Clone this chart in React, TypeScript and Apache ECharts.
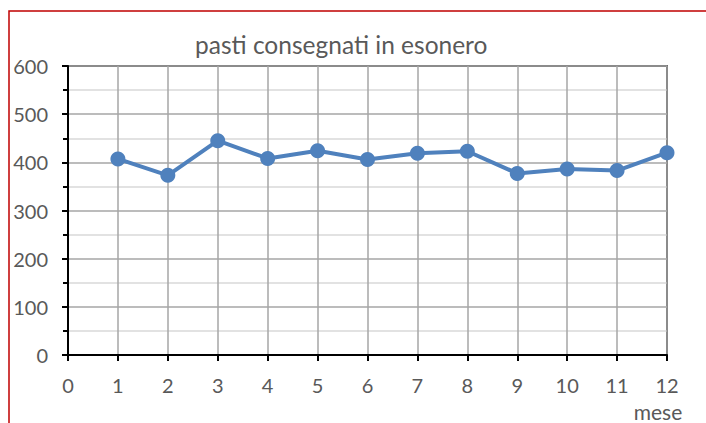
import React, { useEffect, useRef } from "react";
import * as echarts from "echarts";

const titleText = "pasti consegnati in esonero";
const xAxisName = "mese";
const months = [1, 2, 3, 4, 5, 6, 7, 8, 9, 10, 11, 12];
const meals = [407, 373, 445, 408, 424, 406, 419, 423, 377, 386, 383, 420];
const yTicks = { min: 0, max: 600, interval: 100 };
const xTicks = { min: 0, max: 12, interval: 1 };

export default function App() {
  const ref = useRef<HTMLDivElement>(null);
  useEffect(() => {
    if (!ref.current) return;
    const chart = echarts.init(ref.current, null, { renderer: "svg" });
    const font = "Lato, 'Open Sans', sans-serif";
    chart.setOption({
      animation: false,
      backgroundColor: "#ffffff",
      title: {
        text: titleText,
        left: 190,
        top: 27,
        padding: 5,
        textStyle: { fontFamily: font, fontSize: 24.5, fontWeight: "normal", color: "#595959" },
      },
      grid: {
        left: 68,
        top: 66,
        right: 39,
        bottom: 68,
        show: true,
        borderColor: "#000000",
        borderWidth: 1.5,
        containLabel: false,
      },
      xAxis: {
        type: "value",
        min: xTicks.min,
        max: xTicks.max,
        interval: xTicks.interval,
        axisLine: { show: true, lineStyle: { color: "#000", width: 2 } },
        axisTick: { show: true, inside: false, length: 6, lineStyle: { color: "#000", width: 2 } },
        axisLabel: { fontFamily: font, fontSize: 20, color: "#595959", margin: 20 },
        splitLine: { show: true, lineStyle: { color: "#a6a6a6", width: 1.5 } },
      },
      yAxis: {
        type: "value",
        min: yTicks.min,
        max: yTicks.max,
        interval: yTicks.interval,
        axisLine: { show: true, lineStyle: { color: "#000", width: 2 } },
        axisTick: { show: true, inside: false, length: 6, lineStyle: { color: "#000", width: 2 } },
        minorTick: { show: true, splitNumber: 2, length: 5, lineStyle: { color: "#000", width: 2 } },
        axisLabel: { fontFamily: font, fontSize: 20, color: "#595959", margin: 20 },
        splitLine: { show: true, lineStyle: { color: "#a6a6a6", width: 1.5 } },
        minorSplitLine: { show: true, lineStyle: { color: "#d9d9d9", width: 1.5 } },
      },
      series: [
        {
          type: "line",
          data: months.map((m, i) => [m, meals[i]]),
          symbol: "circle",
          symbolSize: 15,
          itemStyle: { color: "#4f81bd" },
          lineStyle: { color: "#4f81bd", width: 4 },
          z: 5,
        },
      ],
      graphic: [
        {
          type: "rect",
          shape: { x: 9, y: 11, width: 740, height: 440 },
          style: { fill: "none", stroke: "#c00000", lineWidth: 1.5 },
          silent: true,
        },
        {
          type: "text",
          x: 658,
          y: 411,
          style: {
            text: xAxisName,
            fontFamily: font,
            fontSize: 21,
            fill: "#595959",
            align: "center",
            verticalAlign: "middle",
          },
        },
      ],
    });
    return () => chart.dispose();
  }, []);
  return (
    <div
      ref={ref}
      style={{ position: "fixed", left: 0, top: 0, width: 706, height: 423 }}
    />
  );
}
